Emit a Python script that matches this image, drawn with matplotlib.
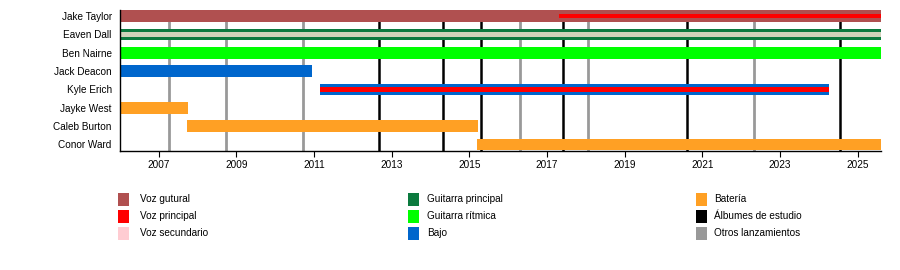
import matplotlib
matplotlib.use("Agg")
import matplotlib.pyplot as plt
from matplotlib.patches import Rectangle

plt.rcParams['font.family'] = ['Liberation Sans', 'DejaVu Sans']

# ---- data ----
members = ["Jake Taylor", "Eaven Dall", "Ben Nairne", "Jack Deacon",
           "Kyle Erich", "Jayke West", "Caleb Burton", "Conor Ward"]

START = 2006.0
END = 2025.6

bar_member = ["Jake Taylor", "Eaven Dall", "Ben Nairne", "Jack Deacon",
              "Kyle Erich", "Jayke West", "Caleb Burton", "Conor Ward"]
bar_start = [2006.0, 2006.0, 2006.0, 2006.0, 2011.15, 2006.0, 2007.73, 2015.2]
bar_end = [2025.6, 2025.6, 2025.6, 2010.94, 2024.27, 2007.75, 2015.22, 2025.6]
bar_role = ["Voz gutural", "Guitarra principal", "Guitarra rítmica", "Bajo",
            "Bajo", "Batería", "Batería", "Batería"]

stripe_member = ["Jake Taylor", "Eaven Dall", "Kyle Erich"]
stripe_start = [2017.30, 2006.0, 2011.15]
stripe_end = [2025.6, 2025.6, 2024.27]
stripe_role = ["Voz principal", "Voz secundario", "Voz principal"]

studio_albums = [2012.66, 2014.33, 2015.31, 2017.40, 2020.60, 2024.54]
other_releases = [2007.27, 2008.74, 2010.72, 2016.29, 2018.06, 2022.34]

year_ticks = [2007, 2009, 2011, 2013, 2015, 2017, 2019, 2021, 2023, 2025]

legend_cols = [
    ["Voz gutural", "Voz principal", "Voz secundario"],
    ["Guitarra principal", "Guitarra rítmica", "Bajo"],
    ["Batería", "Álbumes de estudio", "Otros lanzamientos"],
]

role_colors = {
    "Voz gutural": "#B05050",
    "Voz principal": "#FF0000",
    "Voz secundario": "#FFCCD2",
    "Guitarra principal": "#0B7A3E",
    "Guitarra rítmica": "#00FF00",
    "Bajo": "#0066CC",
    "Batería": "#FFA024",
    "Álbumes de estudio": "#000000",
    "Otros lanzamientos": "#999999",
}
stripe_draw_colors = {"Voz principal": "#FF0000", "Voz secundario": "#E2DBC6"}

# ---- figure ----
W, H = 900, 270
fig = plt.figure(figsize=(W / 100, H / 100), dpi=100)
ax = fig.add_axes([120 / W, 1 - 150.5 / H, (881 - 120) / W, (150.5 - 10) / H])

ypos = {m: i for i, m in enumerate(members)}
bh = 0.64
sh = 0.24

for x in studio_albums:
    ax.axvline(x, color=role_colors["Álbumes de estudio"], lw=1.8, zorder=1)
for x in other_releases:
    ax.axvline(x, color=role_colors["Otros lanzamientos"], lw=2.0, zorder=1)

for m, s, e, r in zip(bar_member, bar_start, bar_end, bar_role):
    ax.barh(ypos[m], e - s, left=s, height=bh, color=role_colors[r],
            linewidth=0, zorder=2)

for m, s, e, r in zip(stripe_member, stripe_start, stripe_end, stripe_role):
    ax.barh(ypos[m], e - s, left=s, height=sh, color=stripe_draw_colors[r],
            alpha=0.92 if r == "Voz secundario" else 1.0,
            linewidth=0, zorder=3)

ax.set_xlim(START, END)
ax.set_ylim(len(members) - 1 + 0.33, -0.33)
ax.set_yticks(range(len(members)))
ax.set_yticklabels(members, fontsize=7.2)
ax.tick_params(axis='y', length=0, pad=6)
ax.set_xticks(year_ticks)
ax.set_xticklabels([str(y) for y in year_ticks], fontsize=7.2)
ax.tick_params(axis='x', length=4, width=0.8, pad=3)
for sp in ["top", "right"]:
    ax.spines[sp].set_visible(False)
for sp in ["left", "bottom"]:
    ax.spines[sp].set_linewidth(1.0)
    ax.spines[sp].set_zorder(4)

# ---- legend ----
col_sw_x = [118, 408, 696]
col_tx_x = [140, 427, 714]
row_y = [199, 216, 233]
sw_w, sw_h = 11, 13
for ci, col in enumerate(legend_cols):
    for ri, name in enumerate(col):
        yc = row_y[ri]
        fig.patches.append(Rectangle((col_sw_x[ci] / W, 1 - (yc + sw_h / 2) / H),
                                     sw_w / W, sw_h / H, transform=fig.transFigure,
                                     color=role_colors[name], linewidth=0))
        fig.text(col_tx_x[ci] / W, 1 - yc / H, name, fontsize=7.2,
                 va='center', ha='left')

fig.savefig("out.png", dpi=100)
